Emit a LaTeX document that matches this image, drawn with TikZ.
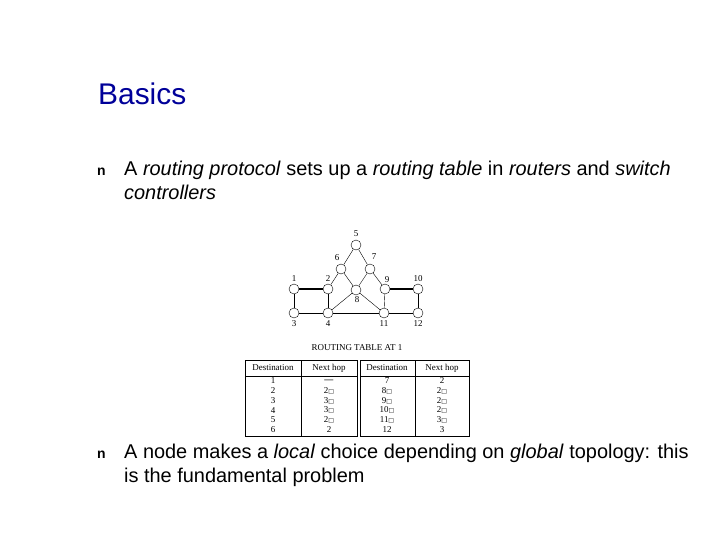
\documentclass[tikz,border=0pt]{standalone}
\usepackage{fontspec}
\setmainfont{Liberation Sans}
\newfontfamily\tabfont{Liberation Serif}
\newfontfamily\symfont{DejaVu Sans}
\begin{document}
\begin{tikzpicture}[x=1bp,y=-1bp,
  rt/.style={circle,draw,inner sep=0pt,minimum size=10bp,thin},
  lab/.style={font=\tabfont\fontsize{9}{10}\selectfont,inner sep=0pt},
  body/.style={font=\fontsize{20}{24}\selectfont,anchor=north west,inner sep=0pt,align=left},
  cell/.style={font=\tabfont\fontsize{9}{10}\selectfont,inner sep=0pt},
  edge/.style={thin}]
\useasboundingbox (0,0) rectangle (720,540);
\def\bx{{\symfont\fontsize{6}{6}\selectfont□}}
\node[anchor=west,inner sep=0pt,text=blue!60!black,font=\fontsize{30}{34}\selectfont] (title) at (98,94) {Basics};
\node[anchor=west,inner sep=0pt,font=\bfseries\fontsize{14}{16}\selectfont] (b1) at (97,172) {n};
\node[body] (t1) at (124,161) {A \textit{routing protocol} sets up a \textit{routing table} in \textit{routers} and \textit{switch}\\\textit{controllers}};
\node[anchor=west,inner sep=0pt,font=\bfseries\fontsize{14}{16}\selectfont] (b2) at (97,455) {n};
\node[body] (t2) at (124,444) {A node makes a \textit{local} choice depending on \textit{global} topology: this\\is the fundamental problem};
% graph
\foreach \n/\x/\y in {1/294/289,2/328/289,5/356/245,6/341/269,7/370/269,8/356/290,9/385/289,10/418/289,3/294/313,4/328/313,11/384/313,12/418/313}
  \node[rt] (n\n) at (\x,\y) {};
\foreach \n/\x/\y in {1/294/279,2/328/279,5/356/234,6/337/258,7/374/257,8/357/300,9/387/280,10/418/279,3/294/324,4/328/324,11/384/324,12/418/324}
  \node[lab] (l\n) at (\x,\y) {\n};
\draw[line width=1.3bp] (n1)--(n2) (n9)--(n10);
\foreach \a/\b in {1/3,3/4,2/4,2/6,6/5,5/7,6/8,7/8,7/9,9/11,10/12,4/11,11/12,4/8,8/11}
  \draw[edge] (n\a)--(n\b);
% table
\node[lab] (tt) at (357,348) {ROUTING TABLE AT 1};
\draw[thin] (245,360) rectangle (357,436) (360,360) rectangle (469,436);
\draw[thin] (245,376)--(357,376) (360,376)--(469,376) (301,360)--(301,436) (415,360)--(415,436);
\node[cell] (h1) at (273,368) {Destination};
\node[cell] (h2) at (329,368) {Next hop};
\node[cell] (h3) at (387,368) {Destination};
\node[cell] (h4) at (442,368) {Next hop};
\foreach \i/\a/\b/\c/\d in {0/1/{\textbf{—}}/7/2, 1/2/2\bx/8\bx/2\bx, 2/3/3\bx/9\bx/2\bx, 3/4/3\bx/10\bx/2\bx, 4/5/2\bx/11\bx/3\bx, 5/6/2/12/3}{
  \node[cell] (ra\i) at (273,381+9.7*\i) {\a};
  \node[cell] (rb\i) at (329,381+9.7*\i) {\b};
  \node[cell] (rc\i) at (387,381+9.7*\i) {\c};
  \node[cell] (rd\i) at (442,381+9.7*\i) {\d};
}
\end{tikzpicture}
\end{document}
